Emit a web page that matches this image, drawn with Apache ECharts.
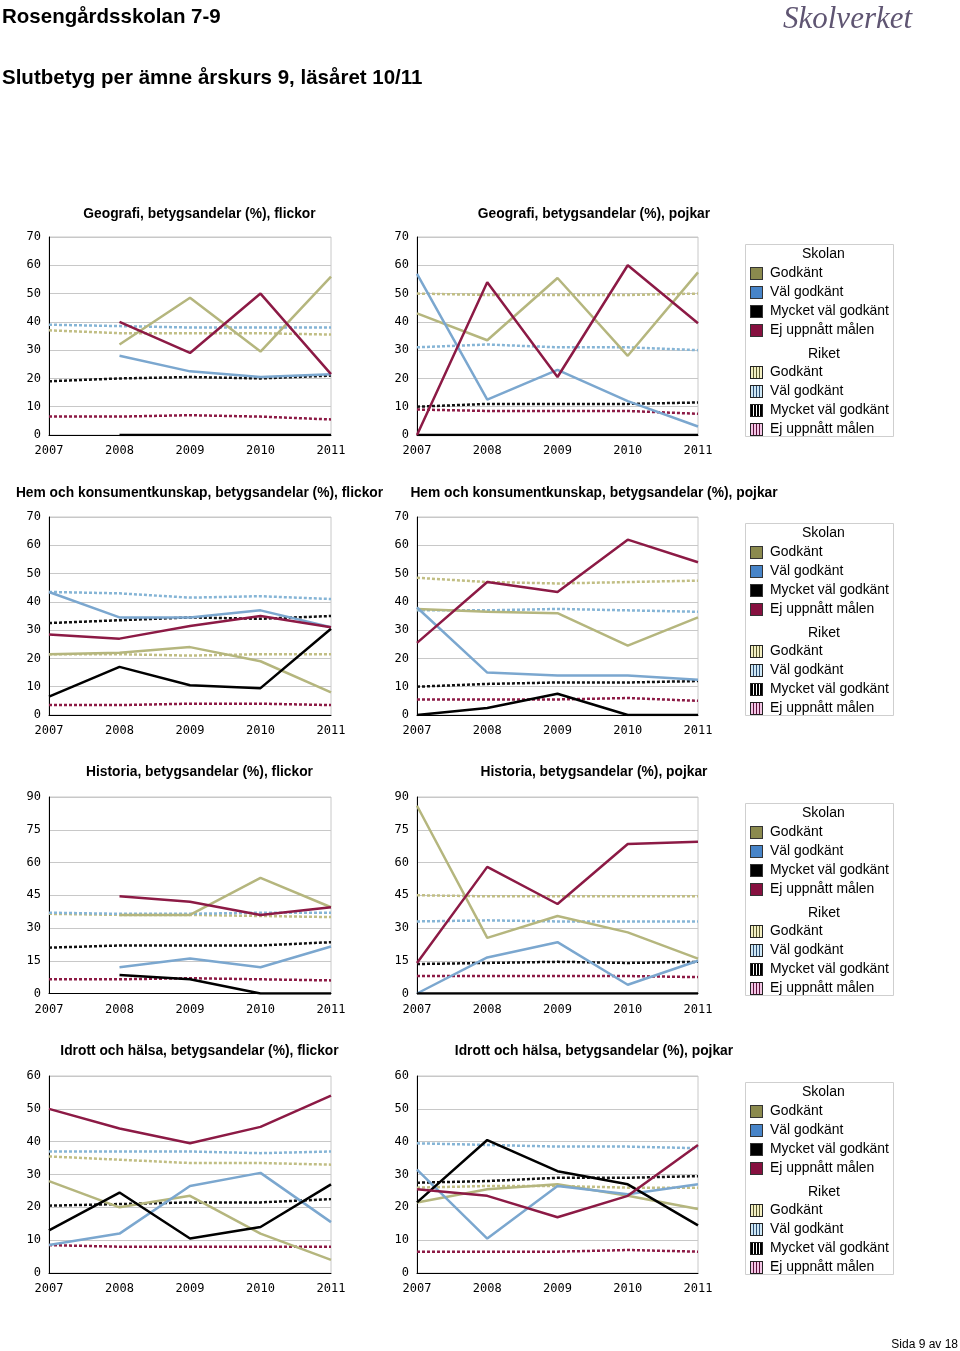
<!DOCTYPE html>
<html>
<head>
<meta charset="utf-8">
<script src="https://cdn.jsdelivr.net/npm/echarts@6/dist/echarts.min.js"></script>
<style>
html,body{margin:0;padding:0;background:#fff;}
#c{width:960px;height:1351px;}
</style>
</head>
<body>
<div id="c"></div>
<script>
// ---- Data ----
const years = ['2007', '2008', '2009', '2010', '2011'];
const gradeNames = ['Godkänt', 'Väl godkänt', 'Mycket väl godkänt', 'Ej uppnått målen'];

// Geografi, flickor
const geoF_G   = [null, 32, 48.5, 29.5, 56];
const geoF_VG  = [null, 28, 22.5, 20.5, 21.5];
const geoF_MVG = [null, 0, 0, 0, 0];
const geoF_EJ  = [null, 40, 29, 50, 21.5];
const geoF_rG   = [37, 36, 36, 36, 35.5];
const geoF_rVG  = [39, 38.5, 38, 38, 38];
const geoF_rMVG = [19, 20, 20.5, 20, 21];
const geoF_rEJ  = [6.5, 6.5, 7, 6.5, 5.5];

// Geografi, pojkar
const geoP_G   = [43, 33.5, 55.5, 28, 57.5];
const geoP_VG  = [57, 12.5, 23, 12, 3];
const geoP_MVG = [0, 0, 0, 0, 0];
const geoP_EJ  = [0, 54, 20.5, 60, 39.5];
const geoP_rG   = [50, 49.5, 49.5, 49.5, 50];
const geoP_rVG  = [31, 32, 31, 31, 30];
const geoP_rMVG = [10, 11, 11, 11, 11.5];
const geoP_rEJ  = [9, 8.5, 8.5, 8.5, 7.5];

// Hem och konsumentkunskap, flickor
const hemF_G   = [21.5, 22, 24, 19, 8];
const hemF_VG  = [43.5, 34.5, 34.5, 37, 31];
const hemF_MVG = [6.5, 17, 10.5, 9.5, 30.5];
const hemF_EJ  = [28.5, 27, 31.5, 35, 31];
const hemF_rG   = [21.5, 21.5, 21, 21.5, 21.5];
const hemF_rVG  = [43.5, 43, 41.5, 42, 41];
const hemF_rMVG = [32.5, 33.5, 34.5, 34, 35];
const hemF_rEJ  = [3.5, 3.5, 4, 4, 3.5];

// Hem och konsumentkunskap, pojkar
const hemP_G   = [37.5, 36.5, 36, 24.5, 34.5];
const hemP_VG  = [38, 15, 14, 14, 12.5];
const hemP_MVG = [0, 2.5, 7.5, 0, 0];
const hemP_EJ  = [25.5, 47, 43.5, 62, 54];
const hemP_rG   = [48.5, 47, 46.5, 47, 47.5];
const hemP_rVG  = [37, 37, 37.5, 37, 36.5];
const hemP_rMVG = [10, 11, 11.5, 11.5, 12];
const hemP_rEJ  = [5.5, 5.5, 5.5, 6, 5];

// Historia, flickor
const hisF_G   = [null, 36, 36, 53, 39.5];
const hisF_VG  = [null, 12, 16, 12, 21.5];
const hisF_MVG = [null, 8.5, 6.5, 0, 0];
const hisF_EJ  = [null, 44.5, 42, 36, 39.5];
const hisF_rG   = [36.5, 36, 36, 35.5, 35];
const hisF_rVG  = [37, 36.5, 36.5, 37, 37];
const hisF_rMVG = [21, 22, 22, 22, 23.5];
const hisF_rEJ  = [6.5, 6.5, 7, 6.5, 6];

// Historia, pojkar
const hisP_G   = [86, 25.5, 35.5, 28, 16];
const hisP_VG  = [0, 16.5, 23.5, 4, 15];
const hisP_MVG = [0, 0, 0, 0, 0];
const hisP_EJ  = [14, 58, 41, 68.5, 69.5];
const hisP_rG   = [45, 44.5, 44.5, 44.5, 44.5];
const hisP_rVG  = [33, 33.5, 33, 33, 33];
const hisP_rMVG = [13.5, 14, 14.5, 14, 14.5];
const hisP_rEJ  = [8, 8, 8, 8, 7.5];

// Idrott och hälsa, flickor
const idrF_G   = [28, 20, 23.5, 12, 4];
const idrF_VG  = [8.5, 12, 26.5, 30.5, 15.5];
const idrF_MVG = [13, 24.5, 10.5, 14, 27];
const idrF_EJ  = [50, 44, 39.5, 44.5, 54];
const idrF_rG   = [35.5, 34.5, 33.5, 33.5, 33];
const idrF_rVG  = [37, 37, 37, 36.5, 37];
const idrF_rMVG = [20.5, 21, 21.5, 21.5, 22.5];
const idrF_rEJ  = [8.5, 8, 8, 8, 8];

// Idrott och hälsa, pojkar
const idrP_G   = [21.5, 25.5, 27, 23.5, 19.5];
const idrP_VG  = [31.5, 10.5, 26.5, 24, 27];
const idrP_MVG = [21.5, 40.5, 31, 27, 14.5];
const idrP_EJ  = [25.5, 23.5, 17, 23.5, 39];
const idrP_rG   = [26, 26.5, 26.5, 26, 26];
const idrP_rVG  = [39.5, 39, 38.5, 38.5, 38];
const idrP_rMVG = [27.5, 28, 29, 29, 29.5];
const idrP_rEJ  = [6.5, 6.5, 6.5, 7, 6.5];

// Axis ticks per subject
const ticks70 = [0, 10, 20, 30, 40, 50, 60, 70];
const ticks90 = [0, 15, 30, 45, 60, 75, 90];
const ticks60 = [0, 10, 20, 30, 40, 50, 60];

// ---- Panels ----
const panels = [
  {title: 'Geografi, betygsandelar (%), flickor', col: 0, row: 0, ticks: ticks70,
   school: [geoF_G, geoF_VG, geoF_MVG, geoF_EJ], riket: [geoF_rG, geoF_rVG, geoF_rMVG, geoF_rEJ]},
  {title: 'Geografi, betygsandelar (%), pojkar', col: 1, row: 0, ticks: ticks70,
   school: [geoP_G, geoP_VG, geoP_MVG, geoP_EJ], riket: [geoP_rG, geoP_rVG, geoP_rMVG, geoP_rEJ]},
  {title: 'Hem och konsumentkunskap, betygsandelar (%), flickor', col: 0, row: 1, ticks: ticks70,
   school: [hemF_G, hemF_VG, hemF_MVG, hemF_EJ], riket: [hemF_rG, hemF_rVG, hemF_rMVG, hemF_rEJ]},
  {title: 'Hem och konsumentkunskap, betygsandelar (%), pojkar', col: 1, row: 1, ticks: ticks70,
   school: [hemP_G, hemP_VG, hemP_MVG, hemP_EJ], riket: [hemP_rG, hemP_rVG, hemP_rMVG, hemP_rEJ]},
  {title: 'Historia, betygsandelar (%), flickor', col: 0, row: 2, ticks: ticks90,
   school: [hisF_G, hisF_VG, hisF_MVG, hisF_EJ], riket: [hisF_rG, hisF_rVG, hisF_rMVG, hisF_rEJ]},
  {title: 'Historia, betygsandelar (%), pojkar', col: 1, row: 2, ticks: ticks90,
   school: [hisP_G, hisP_VG, hisP_MVG, hisP_EJ], riket: [hisP_rG, hisP_rVG, hisP_rMVG, hisP_rEJ]},
  {title: 'Idrott och hälsa, betygsandelar (%), flickor', col: 0, row: 3, ticks: ticks60,
   school: [idrF_G, idrF_VG, idrF_MVG, idrF_EJ], riket: [idrF_rG, idrF_rVG, idrF_rMVG, idrF_rEJ]},
  {title: 'Idrott och hälsa, betygsandelar (%), pojkar', col: 1, row: 3, ticks: ticks60,
   school: [idrP_G, idrP_VG, idrP_MVG, idrP_EJ], riket: [idrP_rG, idrP_rVG, idrP_rMVG, idrP_rEJ]}
];

// ---- Layout / style ----
const colLeft = [49, 417];
const colWidth = [282, 281];
const colCenter = [199.5, 594];
const rowTop = [237, 517, 797, 1076];
const rowHeight = [198, 198, 196.5, 197];
const rowTitleTop = [207, 486, 765, 1044];
const rowLegendTop = [244, 523, 803, 1082];

const schoolLineColors = ['#b5b67e', '#7ba7cf', '#000000', '#8c1a45'];
const riketLineColors = ['#c1be84', '#86b5d6', '#111111', '#8c1a45'];
const schoolSwatch = ['#8b8a4e', '#4784c8', '#000000', '#86103f'];
const riketSwatchBg = ['#f3f0c4', '#cfe8f6', '#000000', '#f4c6e6'];
const riketSwatchFg = ['#5b5a30', '#2d4f73', '#ffffff', '#5a1038'];

function solidIcon(color) {
  const c = document.createElement('canvas');
  c.width = 13; c.height = 13;
  const x = c.getContext('2d');
  x.fillStyle = '#333';
  x.fillRect(0, 0, 13, 13);
  x.fillStyle = color;
  x.fillRect(1, 1, 11, 11);
  return 'image://' + c.toDataURL();
}
function stripeIcon(bg, fg) {
  const c = document.createElement('canvas');
  c.width = 13; c.height = 13;
  const x = c.getContext('2d');
  x.fillStyle = '#222';
  x.fillRect(0, 0, 13, 13);
  x.fillStyle = bg;
  x.fillRect(1, 1, 11, 11);
  x.fillStyle = fg;
  for (let i = 3; i < 12; i += 3) x.fillRect(i, 1, 1, 11);
  return 'image://' + c.toDataURL();
}

const FONT = '"Liberation Sans", Arial, sans-serif';
const AXFONT = '"DejaVu Sans Mono", monospace';

const grid = [], xAxis = [], yAxis = [], series = [], title = [], legend = [], graphic = [];

title.push({text: 'Rosengårdsskolan 7-9', left: 2, top: 7, padding: 0,
  textStyle: {fontFamily: FONT, fontSize: 20.5, fontWeight: 'bold', color: '#000'}});
title.push({text: 'Slutbetyg per ämne årskurs 9, läsåret 10/11', left: 2, top: 68, padding: 0,
  textStyle: {fontFamily: FONT, fontSize: 20.5, fontWeight: 'bold', color: '#000'}});
title.push({text: 'Skolverket', left: 783, top: 4, padding: 0,
  textStyle: {fontFamily: '"Liberation Serif", "DejaVu Serif", serif', fontStyle: 'italic', fontSize: 31, fontWeight: 'normal', color: '#5f5572'}});
title.push({text: 'Sida 9 av 18', right: 2, top: 1339, padding: 0,
  textStyle: {fontFamily: FONT, fontSize: 12, fontWeight: 'normal', color: '#000'}});

panels.forEach((p, i) => {
  const max = p.ticks[p.ticks.length - 1];
  const interval = p.ticks[1] - p.ticks[0];
  grid.push({left: colLeft[p.col], top: rowTop[p.row], width: colWidth[p.col], height: rowHeight[p.row],
    show: true, borderColor: '#c8c8c8', borderWidth: 1, backgroundColor: '#fff'});
  xAxis.push({type: 'category', gridIndex: i, data: years, boundaryGap: false,
    axisLine: {show: true, lineStyle: {color: '#000', width: 1}},
    axisTick: {show: false},
    axisLabel: {fontFamily: AXFONT, fontSize: 12, color: '#000', margin: 10, showMinLabel: true, showMaxLabel: true, interval: 0},
    splitLine: {show: false}});
  yAxis.push({type: 'value', gridIndex: i, min: 0, max: max, interval: interval,
    axisLine: {show: true, lineStyle: {color: '#000', width: 1}},
    axisTick: {show: false},
    axisLabel: {fontFamily: AXFONT, fontSize: 12, color: '#000', margin: 8},
    splitLine: {show: true, lineStyle: {color: '#c8c8c8', width: 1}}});
  title.push({text: p.title, left: colCenter[p.col], textAlign: 'center', top: rowTitleTop[p.row], padding: 0,
    textStyle: {fontFamily: FONT, fontSize: 13.8, fontWeight: 'bold', color: '#000'}});
  p.riket.forEach((d, k) => {
    series.push({type: 'line', name: 'Riket ' + gradeNames[k], xAxisIndex: i, yAxisIndex: i, data: d,
      symbol: 'none', z: 2, silent: true,
      lineStyle: {color: riketLineColors[k], width: 2.5, type: [3, 2]},
      itemStyle: {color: riketLineColors[k]}});
  });
  p.school.forEach((d, k) => {
    series.push({type: 'line', name: 'Skolan ' + gradeNames[k], xAxisIndex: i, yAxisIndex: i, data: d,
      symbol: 'none', z: 3, silent: true, connectNulls: false,
      lineStyle: {color: schoolLineColors[k], width: 2.5},
      itemStyle: {color: schoolLineColors[k]}});
  });
});

// Legends (one box per row, shown beside right-hand chart)
const strip = n => n.replace(/^(Skolan|Riket) /, '');
rowLegendTop.forEach((top, r) => {
  graphic.push({type: 'rect', left: 745, top: top, shape: {width: 148, height: 192}, silent: true,
    style: {fill: '#fff', stroke: '#cfcfcf', lineWidth: 1}});
  graphic.push({type: 'text', left: 802, top: top + 3, silent: true,
    style: {text: 'Skolan', font: '14px ' + FONT, fill: '#000'}});
  graphic.push({type: 'text', left: 808, top: top + 103, silent: true,
    style: {text: 'Riket', font: '14px ' + FONT, fill: '#000'}});
  legend.push({orient: 'vertical', left: 750, top: top + 22.5, padding: 0, itemGap: 5, itemWidth: 13, itemHeight: 13,
    selectedMode: false, formatter: strip,
    textStyle: {fontFamily: FONT, fontSize: 13.9, color: '#000', padding: [0, 0, 0, 2]},
    data: gradeNames.map((g, k) => ({name: 'Skolan ' + g, icon: solidIcon(schoolSwatch[k])}))});
  legend.push({orient: 'vertical', left: 750, top: top + 121.5, padding: 0, itemGap: 5, itemWidth: 13, itemHeight: 13,
    selectedMode: false, formatter: strip,
    textStyle: {fontFamily: FONT, fontSize: 13.9, color: '#000', padding: [0, 0, 0, 2]},
    data: gradeNames.map((g, k) => ({name: 'Riket ' + g, icon: stripeIcon(riketSwatchBg[k], riketSwatchFg[k])}))});
});

const chart = echarts.init(document.getElementById('c'), null, {renderer: 'canvas'});
chart.setOption({
  animation: false,
  backgroundColor: '#fff',
  title, grid, xAxis, yAxis, series, legend, graphic
});
</script>
</body>
</html>
